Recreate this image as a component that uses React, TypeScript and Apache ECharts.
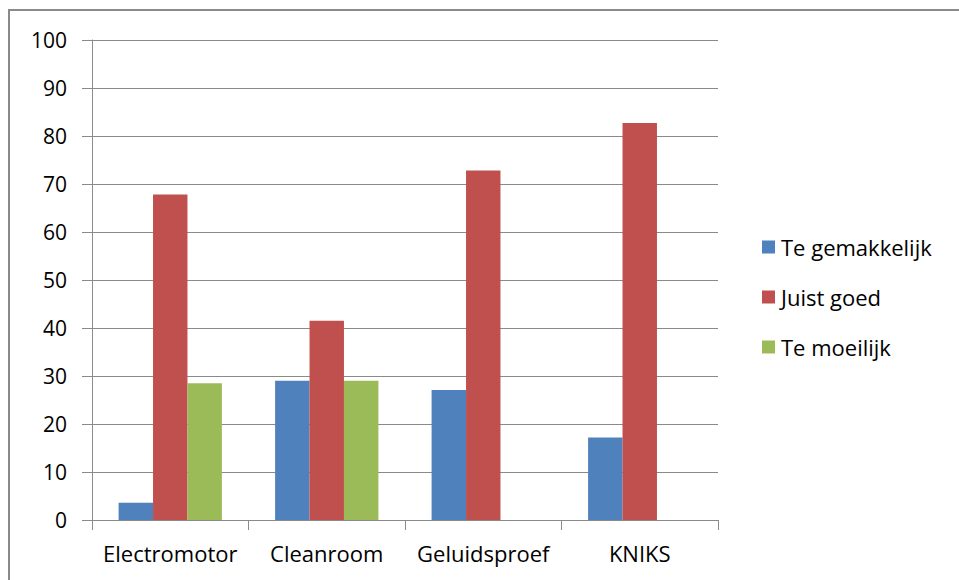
import React, { useEffect, useRef } from "react";
import * as echarts from "echarts";

const categories = ["Electromotor", "Cleanroom", "Geluidsproef", "KNIKS"];
const teGemakkelijk = [3.6, 29.0, 27.1, 17.2];
const juistGoed = [67.8, 41.5, 72.8, 82.7];
const teMoeilijk = [28.5, 29.0, 0, 0];
const seriesNames = ["Te gemakkelijk", "Juist goed", "Te moeilijk"];
const colors = ["#4F81BD", "#C0504D", "#9BBB59"];

export default function App() {
  const ref = useRef<HTMLDivElement>(null);
  useEffect(() => {
    if (!ref.current) return;
    const chart = echarts.init(ref.current, undefined, { renderer: "svg" });
    const font = "'Open Sans', 'Noto Sans', sans-serif";
    const data = [teGemakkelijk, juistGoed, teMoeilijk];
    chart.setOption({
      animation: false,
      backgroundColor: "#ffffff",
      textStyle: { fontFamily: font },
      graphic: [
        {
          type: "rect",
          shape: { x: 9, y: 10, width: 1000, height: 620 },
          style: { fill: "none", stroke: "#8a8a8a", lineWidth: 2 },
          silent: true,
        },
      ],
      grid: { left: 92, right: 241, top: 40, bottom: 60, containLabel: false },
      legend: {
        orient: "vertical",
        left: 762,
        top: 234,
        padding: 0,
        itemWidth: 13,
        itemHeight: 13,
        itemGap: 24,
        icon: "rect",
        data: seriesNames,
        textStyle: {
          fontFamily: font,
          fontSize: 22,
          color: "#000",
          lineHeight: 26,
          padding: [0, 0, 0, 1],
        },
      },
      xAxis: {
        type: "category",
        data: categories,
        axisLine: { lineStyle: { color: "#8a8a8a", width: 1 } },
        axisTick: { show: true, interval: 0, length: 10, lineStyle: { color: "#8a8a8a" } },
        axisLabel: { interval: 0, fontFamily: font, fontSize: 22, color: "#000", margin: 22 },
      },
      yAxis: {
        type: "value",
        min: 0,
        max: 100,
        interval: 10,
        axisLine: { show: true, lineStyle: { color: "#8a8a8a", width: 1 } },
        axisTick: { show: true, length: 10, lineStyle: { color: "#8a8a8a" } },
        axisLabel: { fontFamily: font, fontSize: 21, color: "#000", margin: 25 },
        splitLine: { show: true, lineStyle: { color: "#8a8a8a", width: 1 } },
      },
      series: seriesNames.map((name, i) => ({
        name,
        type: "bar",
        data: data[i],
        barGap: "0%",
        barCategoryGap: "34%",
        itemStyle: { color: colors[i] },
      })),
    });
    return () => chart.dispose();
  }, []);
  return (
    <div
      ref={ref}
      style={{ position: "fixed", left: 0, top: 0, width: 959, height: 580 }}
    />
  );
}
